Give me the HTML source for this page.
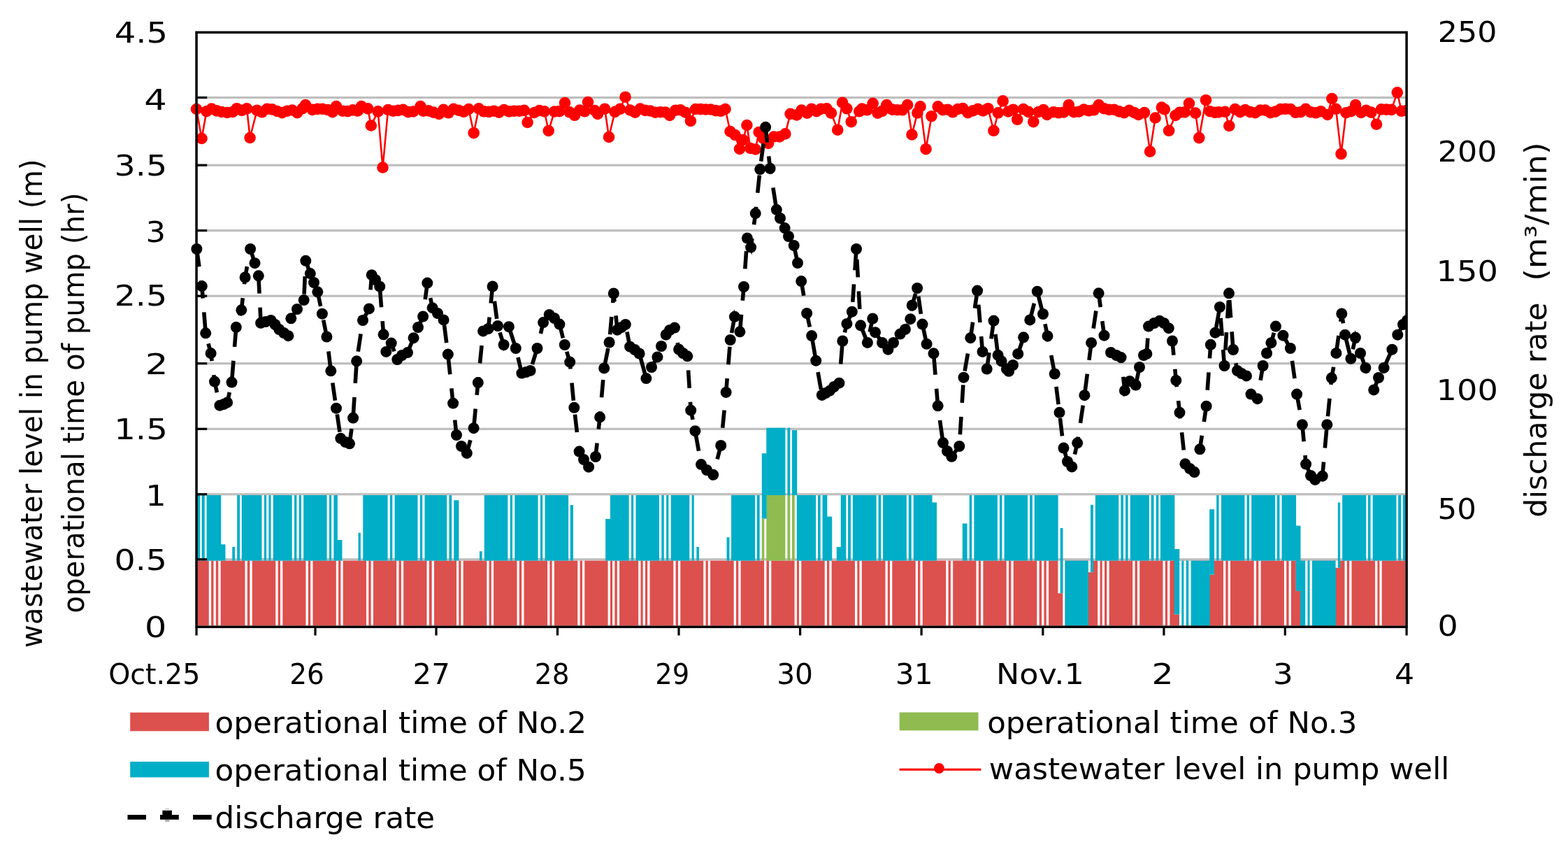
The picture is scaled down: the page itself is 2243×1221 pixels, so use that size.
<!DOCTYPE html>
<html><head><meta charset="utf-8"><title>chart</title>
<style>html,body{margin:0;padding:0;background:#fff;overflow:hidden;} svg{display:block;}</style>
</head><body>
<svg width="2243" height="1221" viewBox="0 0 2243 1221">
<rect x="0" y="0" width="2243" height="1221" fill="#fff"/>
<rect x="281.1" y="137.9" width="1731.0" height="3.2" fill="#BEBEBE"/>
<rect x="281.1" y="234.6" width="1731.0" height="3.2" fill="#BEBEBE"/>
<rect x="281.1" y="328.0" width="1731.0" height="3.2" fill="#BEBEBE"/>
<rect x="281.1" y="421.6" width="1731.0" height="3.2" fill="#BEBEBE"/>
<rect x="281.1" y="518.1" width="1731.0" height="3.2" fill="#BEBEBE"/>
<rect x="281.1" y="611.7" width="1731.0" height="3.2" fill="#BEBEBE"/>
<rect x="281.1" y="705.1" width="1731.0" height="3.2" fill="#BEBEBE"/>
<rect x="281.1" y="798.2" width="1731.0" height="3.2" fill="#BEBEBE"/>
<rect x="282.60" y="801.60" width="1727.80" height="93.00" fill="#DC504E"/>
<rect x="1513.40" y="801.60" width="6.90" height="46.70" fill="#fff"/>
<rect x="1520.30" y="801.60" width="3.40" height="93.00" fill="#fff"/>
<rect x="1523.45" y="801.60" width="33.60" height="93.00" fill="#00AEC7"/>
<rect x="1556.80" y="801.60" width="6.90" height="16.60" fill="#fff"/>
<rect x="1680.10" y="801.60" width="6.90" height="76.80" fill="#fff"/>
<rect x="1686.75" y="801.60" width="43.90" height="93.00" fill="#00AEC7"/>
<rect x="1730.40" y="801.60" width="6.50" height="20.00" fill="#fff"/>
<rect x="1853.80" y="801.60" width="6.50" height="43.30" fill="#fff"/>
<rect x="1860.05" y="801.60" width="50.80" height="93.00" fill="#00AEC7"/>
<rect x="1910.60" y="801.60" width="6.30" height="10.20" fill="#fff"/>
<rect x="298.80" y="801.60" width="3.30" height="93.00" fill="#fff"/>
<rect x="305.50" y="801.60" width="3.30" height="93.00" fill="#fff"/>
<rect x="312.30" y="801.60" width="3.30" height="93.00" fill="#fff"/>
<rect x="350.50" y="801.60" width="3.30" height="93.00" fill="#fff"/>
<rect x="357.40" y="801.60" width="3.30" height="93.00" fill="#fff"/>
<rect x="394.30" y="801.60" width="3.30" height="93.00" fill="#fff"/>
<rect x="401.00" y="801.60" width="3.30" height="93.00" fill="#fff"/>
<rect x="437.50" y="801.60" width="3.30" height="93.00" fill="#fff"/>
<rect x="444.20" y="801.60" width="3.30" height="93.00" fill="#fff"/>
<rect x="480.80" y="801.60" width="3.30" height="93.00" fill="#fff"/>
<rect x="487.40" y="801.60" width="3.30" height="93.00" fill="#fff"/>
<rect x="524.00" y="801.60" width="3.30" height="93.00" fill="#fff"/>
<rect x="530.70" y="801.60" width="3.30" height="93.00" fill="#fff"/>
<rect x="567.20" y="801.60" width="3.30" height="93.00" fill="#fff"/>
<rect x="573.90" y="801.60" width="3.30" height="93.00" fill="#fff"/>
<rect x="610.50" y="801.60" width="3.30" height="93.00" fill="#fff"/>
<rect x="617.70" y="801.60" width="3.30" height="93.00" fill="#fff"/>
<rect x="653.00" y="801.60" width="3.30" height="93.00" fill="#fff"/>
<rect x="659.40" y="801.60" width="3.30" height="93.00" fill="#fff"/>
<rect x="696.30" y="801.60" width="3.30" height="93.00" fill="#fff"/>
<rect x="702.80" y="801.60" width="3.30" height="93.00" fill="#fff"/>
<rect x="739.50" y="801.60" width="3.30" height="93.00" fill="#fff"/>
<rect x="746.20" y="801.60" width="3.30" height="93.00" fill="#fff"/>
<rect x="783.10" y="801.60" width="3.30" height="93.00" fill="#fff"/>
<rect x="789.60" y="801.60" width="3.30" height="93.00" fill="#fff"/>
<rect x="826.30" y="801.60" width="3.30" height="93.00" fill="#fff"/>
<rect x="833.00" y="801.60" width="3.30" height="93.00" fill="#fff"/>
<rect x="869.60" y="801.60" width="3.30" height="93.00" fill="#fff"/>
<rect x="876.10" y="801.60" width="3.30" height="93.00" fill="#fff"/>
<rect x="882.80" y="801.60" width="3.30" height="93.00" fill="#fff"/>
<rect x="913.20" y="801.60" width="3.30" height="93.00" fill="#fff"/>
<rect x="919.70" y="801.60" width="3.30" height="93.00" fill="#fff"/>
<rect x="926.20" y="801.60" width="3.30" height="93.00" fill="#fff"/>
<rect x="963.30" y="801.60" width="3.30" height="93.00" fill="#fff"/>
<rect x="970.00" y="801.60" width="3.30" height="93.00" fill="#fff"/>
<rect x="1006.20" y="801.60" width="3.30" height="93.00" fill="#fff"/>
<rect x="1012.80" y="801.60" width="3.30" height="93.00" fill="#fff"/>
<rect x="1049.70" y="801.60" width="3.30" height="93.00" fill="#fff"/>
<rect x="1056.30" y="801.60" width="3.30" height="93.00" fill="#fff"/>
<rect x="1093.10" y="801.60" width="3.30" height="93.00" fill="#fff"/>
<rect x="1100.00" y="801.60" width="3.30" height="93.00" fill="#fff"/>
<rect x="1136.60" y="801.60" width="3.30" height="93.00" fill="#fff"/>
<rect x="1143.00" y="801.60" width="3.30" height="93.00" fill="#fff"/>
<rect x="1179.70" y="801.60" width="3.30" height="93.00" fill="#fff"/>
<rect x="1186.30" y="801.60" width="3.30" height="93.00" fill="#fff"/>
<rect x="1223.00" y="801.60" width="3.30" height="93.00" fill="#fff"/>
<rect x="1229.50" y="801.60" width="3.30" height="93.00" fill="#fff"/>
<rect x="1266.50" y="801.60" width="3.30" height="93.00" fill="#fff"/>
<rect x="1273.00" y="801.60" width="3.30" height="93.00" fill="#fff"/>
<rect x="1309.70" y="801.60" width="3.30" height="93.00" fill="#fff"/>
<rect x="1316.40" y="801.60" width="3.30" height="93.00" fill="#fff"/>
<rect x="1353.20" y="801.60" width="3.30" height="93.00" fill="#fff"/>
<rect x="1359.90" y="801.60" width="3.30" height="93.00" fill="#fff"/>
<rect x="1396.50" y="801.60" width="3.30" height="93.00" fill="#fff"/>
<rect x="1403.10" y="801.60" width="3.30" height="93.00" fill="#fff"/>
<rect x="1439.70" y="801.60" width="3.30" height="93.00" fill="#fff"/>
<rect x="1446.40" y="801.60" width="3.30" height="93.00" fill="#fff"/>
<rect x="1483.30" y="801.60" width="3.30" height="93.00" fill="#fff"/>
<rect x="1490.10" y="801.60" width="3.30" height="93.00" fill="#fff"/>
<rect x="1496.80" y="801.60" width="3.30" height="93.00" fill="#fff"/>
<rect x="1570.20" y="801.60" width="3.30" height="93.00" fill="#fff"/>
<rect x="1576.70" y="801.60" width="3.30" height="93.00" fill="#fff"/>
<rect x="1583.30" y="801.60" width="3.30" height="93.00" fill="#fff"/>
<rect x="1620.20" y="801.60" width="3.30" height="93.00" fill="#fff"/>
<rect x="1626.90" y="801.60" width="3.30" height="93.00" fill="#fff"/>
<rect x="1663.50" y="801.60" width="3.30" height="93.00" fill="#fff"/>
<rect x="1670.10" y="801.60" width="3.30" height="93.00" fill="#fff"/>
<rect x="1687.00" y="801.60" width="3.30" height="93.00" fill="#fff"/>
<rect x="1693.40" y="801.60" width="3.30" height="93.00" fill="#fff"/>
<rect x="1700.30" y="801.60" width="3.30" height="93.00" fill="#fff"/>
<rect x="1750.00" y="801.60" width="3.30" height="93.00" fill="#fff"/>
<rect x="1756.70" y="801.60" width="3.30" height="93.00" fill="#fff"/>
<rect x="1793.70" y="801.60" width="3.30" height="93.00" fill="#fff"/>
<rect x="1800.30" y="801.60" width="3.30" height="93.00" fill="#fff"/>
<rect x="1836.90" y="801.60" width="3.30" height="93.00" fill="#fff"/>
<rect x="1843.60" y="801.60" width="3.30" height="93.00" fill="#fff"/>
<rect x="1867.20" y="801.60" width="3.30" height="93.00" fill="#fff"/>
<rect x="1873.60" y="801.60" width="3.30" height="93.00" fill="#fff"/>
<rect x="1923.50" y="801.60" width="3.30" height="93.00" fill="#fff"/>
<rect x="1930.20" y="801.60" width="3.30" height="93.00" fill="#fff"/>
<rect x="1967.10" y="801.60" width="3.30" height="93.00" fill="#fff"/>
<rect x="1973.40" y="801.60" width="3.30" height="93.00" fill="#fff"/>
<rect x="282.35" y="708.00" width="3.80" height="93.60" fill="#00AEC7"/>
<rect x="288.65" y="708.00" width="4.10" height="93.60" fill="#00AEC7"/>
<rect x="295.55" y="708.00" width="20.70" height="93.60" fill="#00AEC7"/>
<rect x="315.75" y="778.30" width="6.70" height="23.30" fill="#00AEC7"/>
<rect x="332.25" y="781.90" width="3.80" height="19.70" fill="#00AEC7"/>
<rect x="339.15" y="708.00" width="3.90" height="93.60" fill="#00AEC7"/>
<rect x="345.75" y="708.00" width="137.10" height="93.60" fill="#00AEC7"/>
<rect x="482.35" y="772.00" width="7.10" height="29.60" fill="#00AEC7"/>
<rect x="512.55" y="761.70" width="3.30" height="39.90" fill="#00AEC7"/>
<rect x="519.25" y="708.00" width="120.00" height="93.60" fill="#00AEC7"/>
<rect x="642.45" y="708.00" width="3.70" height="93.60" fill="#00AEC7"/>
<rect x="649.25" y="715.20" width="7.10" height="86.40" fill="#00AEC7"/>
<rect x="685.95" y="788.20" width="3.70" height="13.40" fill="#00AEC7"/>
<rect x="692.75" y="708.00" width="120.40" height="93.60" fill="#00AEC7"/>
<rect x="815.75" y="722.00" width="4.20" height="79.60" fill="#00AEC7"/>
<rect x="866.15" y="741.90" width="7.30" height="59.70" fill="#00AEC7"/>
<rect x="872.95" y="708.00" width="119.80" height="93.60" fill="#00AEC7"/>
<rect x="996.35" y="782.00" width="3.60" height="19.60" fill="#00AEC7"/>
<rect x="1039.55" y="768.20" width="3.90" height="33.40" fill="#00AEC7"/>
<rect x="1046.05" y="708.00" width="34.10" height="93.60" fill="#00AEC7"/>
<rect x="1082.75" y="708.00" width="3.90" height="93.60" fill="#00AEC7"/>
<rect x="1139.75" y="708.00" width="27.40" height="93.60" fill="#00AEC7"/>
<rect x="1170.05" y="708.00" width="3.60" height="93.60" fill="#00AEC7"/>
<rect x="1176.55" y="708.00" width="6.80" height="93.60" fill="#00AEC7"/>
<rect x="1182.85" y="738.60" width="7.40" height="63.00" fill="#00AEC7"/>
<rect x="1196.75" y="782.00" width="6.50" height="19.60" fill="#00AEC7"/>
<rect x="1202.75" y="708.00" width="7.60" height="93.60" fill="#00AEC7"/>
<rect x="1213.05" y="708.00" width="3.90" height="93.60" fill="#00AEC7"/>
<rect x="1219.85" y="708.00" width="33.80" height="93.60" fill="#00AEC7"/>
<rect x="1256.55" y="708.00" width="3.70" height="93.60" fill="#00AEC7"/>
<rect x="1263.05" y="708.00" width="33.80" height="93.60" fill="#00AEC7"/>
<rect x="1299.75" y="708.00" width="4.00" height="93.60" fill="#00AEC7"/>
<rect x="1306.75" y="708.00" width="26.80" height="93.60" fill="#00AEC7"/>
<rect x="1333.05" y="718.40" width="7.00" height="83.20" fill="#00AEC7"/>
<rect x="1376.75" y="748.50" width="6.80" height="53.10" fill="#00AEC7"/>
<rect x="1386.65" y="708.00" width="3.60" height="93.60" fill="#00AEC7"/>
<rect x="1393.35" y="708.00" width="33.50" height="93.60" fill="#00AEC7"/>
<rect x="1429.95" y="708.00" width="3.50" height="93.60" fill="#00AEC7"/>
<rect x="1436.55" y="708.00" width="33.50" height="93.60" fill="#00AEC7"/>
<rect x="1473.15" y="708.00" width="3.70" height="93.60" fill="#00AEC7"/>
<rect x="1479.75" y="708.00" width="33.90" height="93.60" fill="#00AEC7"/>
<rect x="1566.85" y="708.00" width="33.40" height="93.60" fill="#00AEC7"/>
<rect x="1603.35" y="708.00" width="3.60" height="93.60" fill="#00AEC7"/>
<rect x="1610.05" y="708.00" width="3.60" height="93.60" fill="#00AEC7"/>
<rect x="1616.75" y="708.00" width="27.10" height="93.60" fill="#00AEC7"/>
<rect x="1646.65" y="708.00" width="3.90" height="93.60" fill="#00AEC7"/>
<rect x="1653.65" y="708.00" width="3.70" height="93.60" fill="#00AEC7"/>
<rect x="1659.95" y="708.00" width="20.40" height="93.60" fill="#00AEC7"/>
<rect x="1740.15" y="708.00" width="3.40" height="93.60" fill="#00AEC7"/>
<rect x="1746.95" y="708.00" width="33.50" height="93.60" fill="#00AEC7"/>
<rect x="1783.55" y="708.00" width="3.50" height="93.60" fill="#00AEC7"/>
<rect x="1790.15" y="708.00" width="34.00" height="93.60" fill="#00AEC7"/>
<rect x="1826.75" y="708.00" width="3.70" height="93.60" fill="#00AEC7"/>
<rect x="1833.55" y="708.00" width="20.50" height="93.60" fill="#00AEC7"/>
<rect x="1920.15" y="708.00" width="34.10" height="93.60" fill="#00AEC7"/>
<rect x="1956.95" y="708.00" width="3.60" height="93.60" fill="#00AEC7"/>
<rect x="1963.65" y="708.00" width="33.80" height="93.60" fill="#00AEC7"/>
<rect x="2000.15" y="708.00" width="4.10" height="93.60" fill="#00AEC7"/>
<rect x="2006.85" y="708.00" width="3.80" height="93.60" fill="#00AEC7"/>
<rect x="374.50" y="708.00" width="3.30" height="90.20" fill="#fff"/>
<rect x="374.50" y="798.20" width="3.30" height="3.40" fill="#BEBEBE"/>
<rect x="381.10" y="708.00" width="3.30" height="90.20" fill="#fff"/>
<rect x="381.10" y="798.20" width="3.30" height="3.40" fill="#BEBEBE"/>
<rect x="387.50" y="708.00" width="3.30" height="90.20" fill="#fff"/>
<rect x="387.50" y="798.20" width="3.30" height="3.40" fill="#BEBEBE"/>
<rect x="417.70" y="708.00" width="3.30" height="90.20" fill="#fff"/>
<rect x="417.70" y="798.20" width="3.30" height="3.40" fill="#BEBEBE"/>
<rect x="424.40" y="708.00" width="3.30" height="90.20" fill="#fff"/>
<rect x="424.40" y="798.20" width="3.30" height="3.40" fill="#BEBEBE"/>
<rect x="430.90" y="708.00" width="3.30" height="90.20" fill="#fff"/>
<rect x="430.90" y="798.20" width="3.30" height="3.40" fill="#BEBEBE"/>
<rect x="467.60" y="708.00" width="3.30" height="90.20" fill="#fff"/>
<rect x="467.60" y="798.20" width="3.30" height="3.40" fill="#BEBEBE"/>
<rect x="474.10" y="708.00" width="3.30" height="90.20" fill="#fff"/>
<rect x="474.10" y="798.20" width="3.30" height="3.40" fill="#BEBEBE"/>
<rect x="554.60" y="708.00" width="3.30" height="90.20" fill="#fff"/>
<rect x="554.60" y="798.20" width="3.30" height="3.40" fill="#BEBEBE"/>
<rect x="561.30" y="708.00" width="3.30" height="90.20" fill="#fff"/>
<rect x="561.30" y="798.20" width="3.30" height="3.40" fill="#BEBEBE"/>
<rect x="597.50" y="708.00" width="3.30" height="90.20" fill="#fff"/>
<rect x="597.50" y="798.20" width="3.30" height="3.40" fill="#BEBEBE"/>
<rect x="604.20" y="708.00" width="3.30" height="90.20" fill="#fff"/>
<rect x="604.20" y="798.20" width="3.30" height="3.40" fill="#BEBEBE"/>
<rect x="726.40" y="708.00" width="3.30" height="90.20" fill="#fff"/>
<rect x="726.40" y="798.20" width="3.30" height="3.40" fill="#BEBEBE"/>
<rect x="733.00" y="708.00" width="3.30" height="90.20" fill="#fff"/>
<rect x="733.00" y="798.20" width="3.30" height="3.40" fill="#BEBEBE"/>
<rect x="769.60" y="708.00" width="3.30" height="90.20" fill="#fff"/>
<rect x="769.60" y="798.20" width="3.30" height="3.40" fill="#BEBEBE"/>
<rect x="776.20" y="708.00" width="3.30" height="90.20" fill="#fff"/>
<rect x="776.20" y="798.20" width="3.30" height="3.40" fill="#BEBEBE"/>
<rect x="899.70" y="708.00" width="3.30" height="90.20" fill="#fff"/>
<rect x="899.70" y="798.20" width="3.30" height="3.40" fill="#BEBEBE"/>
<rect x="906.20" y="708.00" width="3.30" height="90.20" fill="#fff"/>
<rect x="906.20" y="798.20" width="3.30" height="3.40" fill="#BEBEBE"/>
<rect x="943.00" y="708.00" width="3.30" height="90.20" fill="#fff"/>
<rect x="943.00" y="798.20" width="3.30" height="3.40" fill="#BEBEBE"/>
<rect x="949.80" y="708.00" width="3.30" height="90.20" fill="#fff"/>
<rect x="949.80" y="798.20" width="3.30" height="3.40" fill="#BEBEBE"/>
<rect x="956.40" y="708.00" width="3.30" height="90.20" fill="#fff"/>
<rect x="956.40" y="798.20" width="3.30" height="3.40" fill="#BEBEBE"/>
<rect x="986.30" y="708.00" width="3.30" height="90.20" fill="#fff"/>
<rect x="986.30" y="798.20" width="3.30" height="3.40" fill="#BEBEBE"/>
<rect x="1089.80" y="741.60" width="3.50" height="60.00" fill="#8FBB50"/>
<rect x="1096.30" y="708.00" width="27.10" height="93.60" fill="#8FBB50"/>
<rect x="1126.40" y="708.00" width="3.90" height="93.60" fill="#8FBB50"/>
<rect x="1133.00" y="708.00" width="3.80" height="93.60" fill="#8FBB50"/>
<rect x="1089.80" y="648.20" width="6.90" height="93.40" fill="#00AEC7"/>
<rect x="1096.30" y="611.70" width="27.10" height="96.30" fill="#00AEC7"/>
<rect x="1126.40" y="611.70" width="3.90" height="96.30" fill="#00AEC7"/>
<rect x="1133.00" y="615.10" width="7.20" height="92.90" fill="#00AEC7"/>
<rect x="1516.70" y="755.00" width="3.80" height="93.30" fill="#00AEC7"/>
<rect x="1560.00" y="721.80" width="3.90" height="96.40" fill="#00AEC7"/>
<rect x="1679.90" y="785.00" width="7.30" height="93.40" fill="#00AEC7"/>
<rect x="1730.20" y="728.20" width="6.90" height="93.40" fill="#00AEC7"/>
<rect x="1853.60" y="751.60" width="6.90" height="93.30" fill="#00AEC7"/>
<rect x="1913.80" y="718.40" width="3.30" height="93.40" fill="#00AEC7"/>
<defs><clipPath id="cr"><rect x="0" y="0" width="2012" height="1221"/></clipPath></defs>
<g clip-path="url(#cr)">
<path d="M281.0,156.0 L288.5,198.0 L295.4,159.2 L302.6,155.5 L309.9,158.4 L317.0,160.0 L325.0,161.0 L333.0,160.0 L338.7,155.2 L345.9,157.8 L353.1,155.4 L357.6,197.0 L367.6,157.7 L374.8,160.3 L382.0,155.8 L389.2,156.4 L396.4,159.0 L403.6,161.1 L410.8,158.7 L418.0,157.5 L425.2,161.2 L432.5,155.3 L437.0,150.0 L446.9,156.9 L454.1,155.9 L461.3,155.8 L468.5,157.0 L475.7,160.2 L481.0,152.0 L490.2,158.7 L497.4,159.1 L504.6,157.4 L511.8,158.5 L517.0,152.0 L526.2,155.4 L530.8,179.5 L540.7,159.4 L547.5,239.5 L555.1,157.0 L562.3,158.7 L569.5,157.9 L576.7,156.9 L583.9,160.1 L591.1,159.5 L601.5,152.0 L605.6,158.7 L612.8,158.4 L620.0,160.6 L628.0,163.0 L634.4,156.8 L641.6,161.3 L648.8,155.8 L656.0,157.7 L663.3,159.8 L670.5,156.0 L677.7,190.2 L684.9,155.3 L692.1,159.3 L699.3,159.9 L706.5,158.7 L713.8,160.6 L721.0,157.0 L728.2,159.4 L735.4,158.8 L742.6,158.7 L749.8,157.9 L754.6,175.0 L764.2,161.0 L771.5,158.0 L778.7,159.3 L784.7,187.0 L793.1,159.5 L800.3,159.1 L808.0,147.0 L814.7,160.3 L822.0,164.8 L829.1,157.5 L836.4,159.3 L841.0,146.0 L850.8,158.0 L855.0,163.0 L865.2,155.7 L871.0,196.0 L879.6,159.9 L886.9,155.8 L894.5,138.7 L901.3,157.5 L908.5,160.6 L915.7,155.5 L922.9,157.9 L930.1,158.5 L937.3,160.7 L944.6,160.2 L951.8,160.5 L958.0,165.0 L966.2,157.7 L973.4,157.3 L980.6,160.7 L987.9,173.0 L995.0,156.0 L1002.2,156.1 L1009.5,156.5 L1016.7,156.5 L1023.9,158.1 L1031.1,158.8 L1037.5,156.0 L1044.5,188.0 L1051.5,193.0 L1058.0,213.0 L1063.0,200.0 L1068.4,179.0 L1073.3,212.0 L1080.7,213.5 L1085.6,189.0 L1092.0,198.0 L1099.0,205.0 L1106.9,195.5 L1115.1,195.5 L1123.3,191.4 L1130.6,162.8 L1139.7,164.4 L1146.5,157.5 L1154.6,161.6 L1160.9,155.7 L1168.1,159.1 L1174.1,155.9 L1182.6,155.4 L1189.0,161.6 L1198.2,185.7 L1205.1,146.7 L1211.4,155.3 L1217.7,174.2 L1229.2,159.3 L1233.1,155.6 L1240.3,157.3 L1248.6,147.8 L1255.5,161.6 L1261.9,158.9 L1268.3,150.0 L1276.3,156.6 L1283.5,157.2 L1290.8,157.3 L1298.1,150.0 L1304.5,192.5 L1312.4,161.4 L1316.5,152.4 L1324.5,213.2 L1332.5,166.2 L1341.7,152.4 L1348.5,157.2 L1355.7,156.7 L1362.9,160.3 L1370.1,156.0 L1377.3,155.1 L1384.5,161.1 L1391.7,158.4 L1398.9,155.9 L1406.2,158.5 L1413.4,155.2 L1421.4,186.8 L1427.8,161.3 L1434.6,144.4 L1442.2,159.5 L1449.4,156.7 L1455.2,170.8 L1463.9,156.1 L1471.1,159.9 L1478.3,174.2 L1485.5,160.0 L1492.7,157.1 L1497.8,164.0 L1507.1,160.2 L1514.3,161.3 L1521.5,160.5 L1528.8,150.0 L1536.0,160.2 L1543.2,159.7 L1550.4,156.5 L1557.6,158.3 L1564.8,157.3 L1571.8,150.0 L1579.2,155.2 L1586.5,156.8 L1593.7,156.7 L1600.9,159.4 L1608.1,161.1 L1615.3,157.9 L1622.5,161.0 L1628.5,164.0 L1637.0,161.1 L1645.1,216.6 L1652.6,168.5 L1661.8,153.6 L1665.8,156.3 L1672.1,186.8 L1681.5,165.0 L1687.4,160.8 L1694.7,160.4 L1701.0,147.8 L1710.1,161.6 L1715.3,197.1 L1725.0,143.2 L1730.7,159.2 L1737.9,160.8 L1743.4,160.4 L1752.4,159.8 L1758.3,180.0 L1766.8,156.1 L1774.0,160.1 L1781.2,157.1 L1788.4,160.1 L1795.6,161.2 L1802.8,157.5 L1810.1,157.6 L1817.3,161.1 L1824.5,159.6 L1831.7,156.1 L1838.9,155.8 L1846.1,156.0 L1853.3,160.8 L1860.5,160.2 L1867.8,155.9 L1875.0,160.3 L1882.2,161.3 L1889.4,159.2 L1899.0,164.0 L1905.3,141.0 L1911.0,155.8 L1918.5,220.1 L1925.5,161.2 L1932.7,159.2 L1939.1,150.0 L1947.1,161.0 L1954.3,157.8 L1961.5,160.6 L1969.0,177.7 L1975.9,156.4 L1983.2,156.6 L1990.4,156.9 L1998.8,132.3 L2004.8,158.8 L2012.0,158.0" fill="none" stroke="#FF0000" stroke-width="2.6" stroke-linejoin="round"/>
<g fill="#FF0000"><circle cx="281.0" cy="156.0" r="8.3"/><circle cx="288.5" cy="198.0" r="8.3"/><circle cx="295.4" cy="159.2" r="8.3"/><circle cx="302.6" cy="155.5" r="8.3"/><circle cx="309.9" cy="158.4" r="8.3"/><circle cx="317.0" cy="160.0" r="8.3"/><circle cx="325.0" cy="161.0" r="8.3"/><circle cx="333.0" cy="160.0" r="8.3"/><circle cx="338.7" cy="155.2" r="8.3"/><circle cx="345.9" cy="157.8" r="8.3"/><circle cx="353.1" cy="155.4" r="8.3"/><circle cx="357.6" cy="197.0" r="8.3"/><circle cx="367.6" cy="157.7" r="8.3"/><circle cx="374.8" cy="160.3" r="8.3"/><circle cx="382.0" cy="155.8" r="8.3"/><circle cx="389.2" cy="156.4" r="8.3"/><circle cx="396.4" cy="159.0" r="8.3"/><circle cx="403.6" cy="161.1" r="8.3"/><circle cx="410.8" cy="158.7" r="8.3"/><circle cx="418.0" cy="157.5" r="8.3"/><circle cx="425.2" cy="161.2" r="8.3"/><circle cx="432.5" cy="155.3" r="8.3"/><circle cx="437.0" cy="150.0" r="8.3"/><circle cx="446.9" cy="156.9" r="8.3"/><circle cx="454.1" cy="155.9" r="8.3"/><circle cx="461.3" cy="155.8" r="8.3"/><circle cx="468.5" cy="157.0" r="8.3"/><circle cx="475.7" cy="160.2" r="8.3"/><circle cx="481.0" cy="152.0" r="8.3"/><circle cx="490.2" cy="158.7" r="8.3"/><circle cx="497.4" cy="159.1" r="8.3"/><circle cx="504.6" cy="157.4" r="8.3"/><circle cx="511.8" cy="158.5" r="8.3"/><circle cx="517.0" cy="152.0" r="8.3"/><circle cx="526.2" cy="155.4" r="8.3"/><circle cx="530.8" cy="179.5" r="8.3"/><circle cx="540.7" cy="159.4" r="8.3"/><circle cx="547.5" cy="239.5" r="8.3"/><circle cx="555.1" cy="157.0" r="8.3"/><circle cx="562.3" cy="158.7" r="8.3"/><circle cx="569.5" cy="157.9" r="8.3"/><circle cx="576.7" cy="156.9" r="8.3"/><circle cx="583.9" cy="160.1" r="8.3"/><circle cx="591.1" cy="159.5" r="8.3"/><circle cx="601.5" cy="152.0" r="8.3"/><circle cx="605.6" cy="158.7" r="8.3"/><circle cx="612.8" cy="158.4" r="8.3"/><circle cx="620.0" cy="160.6" r="8.3"/><circle cx="628.0" cy="163.0" r="8.3"/><circle cx="634.4" cy="156.8" r="8.3"/><circle cx="641.6" cy="161.3" r="8.3"/><circle cx="648.8" cy="155.8" r="8.3"/><circle cx="656.0" cy="157.7" r="8.3"/><circle cx="663.3" cy="159.8" r="8.3"/><circle cx="670.5" cy="156.0" r="8.3"/><circle cx="677.7" cy="190.2" r="8.3"/><circle cx="684.9" cy="155.3" r="8.3"/><circle cx="692.1" cy="159.3" r="8.3"/><circle cx="699.3" cy="159.9" r="8.3"/><circle cx="706.5" cy="158.7" r="8.3"/><circle cx="713.8" cy="160.6" r="8.3"/><circle cx="721.0" cy="157.0" r="8.3"/><circle cx="728.2" cy="159.4" r="8.3"/><circle cx="735.4" cy="158.8" r="8.3"/><circle cx="742.6" cy="158.7" r="8.3"/><circle cx="749.8" cy="157.9" r="8.3"/><circle cx="754.6" cy="175.0" r="8.3"/><circle cx="764.2" cy="161.0" r="8.3"/><circle cx="771.5" cy="158.0" r="8.3"/><circle cx="778.7" cy="159.3" r="8.3"/><circle cx="784.7" cy="187.0" r="8.3"/><circle cx="793.1" cy="159.5" r="8.3"/><circle cx="800.3" cy="159.1" r="8.3"/><circle cx="808.0" cy="147.0" r="8.3"/><circle cx="814.7" cy="160.3" r="8.3"/><circle cx="822.0" cy="164.8" r="8.3"/><circle cx="829.1" cy="157.5" r="8.3"/><circle cx="836.4" cy="159.3" r="8.3"/><circle cx="841.0" cy="146.0" r="8.3"/><circle cx="850.8" cy="158.0" r="8.3"/><circle cx="855.0" cy="163.0" r="8.3"/><circle cx="865.2" cy="155.7" r="8.3"/><circle cx="871.0" cy="196.0" r="8.3"/><circle cx="879.6" cy="159.9" r="8.3"/><circle cx="886.9" cy="155.8" r="8.3"/><circle cx="894.5" cy="138.7" r="8.3"/><circle cx="901.3" cy="157.5" r="8.3"/><circle cx="908.5" cy="160.6" r="8.3"/><circle cx="915.7" cy="155.5" r="8.3"/><circle cx="922.9" cy="157.9" r="8.3"/><circle cx="930.1" cy="158.5" r="8.3"/><circle cx="937.3" cy="160.7" r="8.3"/><circle cx="944.6" cy="160.2" r="8.3"/><circle cx="951.8" cy="160.5" r="8.3"/><circle cx="958.0" cy="165.0" r="8.3"/><circle cx="966.2" cy="157.7" r="8.3"/><circle cx="973.4" cy="157.3" r="8.3"/><circle cx="980.6" cy="160.7" r="8.3"/><circle cx="987.9" cy="173.0" r="8.3"/><circle cx="995.0" cy="156.0" r="8.3"/><circle cx="1002.2" cy="156.1" r="8.3"/><circle cx="1009.5" cy="156.5" r="8.3"/><circle cx="1016.7" cy="156.5" r="8.3"/><circle cx="1023.9" cy="158.1" r="8.3"/><circle cx="1031.1" cy="158.8" r="8.3"/><circle cx="1037.5" cy="156.0" r="8.3"/><circle cx="1044.5" cy="188.0" r="8.3"/><circle cx="1051.5" cy="193.0" r="8.3"/><circle cx="1058.0" cy="213.0" r="8.3"/><circle cx="1063.0" cy="200.0" r="8.3"/><circle cx="1068.4" cy="179.0" r="8.3"/><circle cx="1073.3" cy="212.0" r="8.3"/><circle cx="1080.7" cy="213.5" r="8.3"/><circle cx="1085.6" cy="189.0" r="8.3"/><circle cx="1092.0" cy="198.0" r="8.3"/><circle cx="1099.0" cy="205.0" r="8.3"/><circle cx="1106.9" cy="195.5" r="8.3"/><circle cx="1115.1" cy="195.5" r="8.3"/><circle cx="1123.3" cy="191.4" r="8.3"/><circle cx="1130.6" cy="162.8" r="8.3"/><circle cx="1139.7" cy="164.4" r="8.3"/><circle cx="1146.5" cy="157.5" r="8.3"/><circle cx="1154.6" cy="161.6" r="8.3"/><circle cx="1160.9" cy="155.7" r="8.3"/><circle cx="1168.1" cy="159.1" r="8.3"/><circle cx="1174.1" cy="155.9" r="8.3"/><circle cx="1182.6" cy="155.4" r="8.3"/><circle cx="1189.0" cy="161.6" r="8.3"/><circle cx="1198.2" cy="185.7" r="8.3"/><circle cx="1205.1" cy="146.7" r="8.3"/><circle cx="1211.4" cy="155.3" r="8.3"/><circle cx="1217.7" cy="174.2" r="8.3"/><circle cx="1229.2" cy="159.3" r="8.3"/><circle cx="1233.1" cy="155.6" r="8.3"/><circle cx="1240.3" cy="157.3" r="8.3"/><circle cx="1248.6" cy="147.8" r="8.3"/><circle cx="1255.5" cy="161.6" r="8.3"/><circle cx="1261.9" cy="158.9" r="8.3"/><circle cx="1268.3" cy="150.0" r="8.3"/><circle cx="1276.3" cy="156.6" r="8.3"/><circle cx="1283.5" cy="157.2" r="8.3"/><circle cx="1290.8" cy="157.3" r="8.3"/><circle cx="1298.1" cy="150.0" r="8.3"/><circle cx="1304.5" cy="192.5" r="8.3"/><circle cx="1312.4" cy="161.4" r="8.3"/><circle cx="1316.5" cy="152.4" r="8.3"/><circle cx="1324.5" cy="213.2" r="8.3"/><circle cx="1332.5" cy="166.2" r="8.3"/><circle cx="1341.7" cy="152.4" r="8.3"/><circle cx="1348.5" cy="157.2" r="8.3"/><circle cx="1355.7" cy="156.7" r="8.3"/><circle cx="1362.9" cy="160.3" r="8.3"/><circle cx="1370.1" cy="156.0" r="8.3"/><circle cx="1377.3" cy="155.1" r="8.3"/><circle cx="1384.5" cy="161.1" r="8.3"/><circle cx="1391.7" cy="158.4" r="8.3"/><circle cx="1398.9" cy="155.9" r="8.3"/><circle cx="1406.2" cy="158.5" r="8.3"/><circle cx="1413.4" cy="155.2" r="8.3"/><circle cx="1421.4" cy="186.8" r="8.3"/><circle cx="1427.8" cy="161.3" r="8.3"/><circle cx="1434.6" cy="144.4" r="8.3"/><circle cx="1442.2" cy="159.5" r="8.3"/><circle cx="1449.4" cy="156.7" r="8.3"/><circle cx="1455.2" cy="170.8" r="8.3"/><circle cx="1463.9" cy="156.1" r="8.3"/><circle cx="1471.1" cy="159.9" r="8.3"/><circle cx="1478.3" cy="174.2" r="8.3"/><circle cx="1485.5" cy="160.0" r="8.3"/><circle cx="1492.7" cy="157.1" r="8.3"/><circle cx="1497.8" cy="164.0" r="8.3"/><circle cx="1507.1" cy="160.2" r="8.3"/><circle cx="1514.3" cy="161.3" r="8.3"/><circle cx="1521.5" cy="160.5" r="8.3"/><circle cx="1528.8" cy="150.0" r="8.3"/><circle cx="1536.0" cy="160.2" r="8.3"/><circle cx="1543.2" cy="159.7" r="8.3"/><circle cx="1550.4" cy="156.5" r="8.3"/><circle cx="1557.6" cy="158.3" r="8.3"/><circle cx="1564.8" cy="157.3" r="8.3"/><circle cx="1571.8" cy="150.0" r="8.3"/><circle cx="1579.2" cy="155.2" r="8.3"/><circle cx="1586.5" cy="156.8" r="8.3"/><circle cx="1593.7" cy="156.7" r="8.3"/><circle cx="1600.9" cy="159.4" r="8.3"/><circle cx="1608.1" cy="161.1" r="8.3"/><circle cx="1615.3" cy="157.9" r="8.3"/><circle cx="1622.5" cy="161.0" r="8.3"/><circle cx="1628.5" cy="164.0" r="8.3"/><circle cx="1637.0" cy="161.1" r="8.3"/><circle cx="1645.1" cy="216.6" r="8.3"/><circle cx="1652.6" cy="168.5" r="8.3"/><circle cx="1661.8" cy="153.6" r="8.3"/><circle cx="1665.8" cy="156.3" r="8.3"/><circle cx="1672.1" cy="186.8" r="8.3"/><circle cx="1681.5" cy="165.0" r="8.3"/><circle cx="1687.4" cy="160.8" r="8.3"/><circle cx="1694.7" cy="160.4" r="8.3"/><circle cx="1701.0" cy="147.8" r="8.3"/><circle cx="1710.1" cy="161.6" r="8.3"/><circle cx="1715.3" cy="197.1" r="8.3"/><circle cx="1725.0" cy="143.2" r="8.3"/><circle cx="1730.7" cy="159.2" r="8.3"/><circle cx="1737.9" cy="160.8" r="8.3"/><circle cx="1743.4" cy="160.4" r="8.3"/><circle cx="1752.4" cy="159.8" r="8.3"/><circle cx="1758.3" cy="180.0" r="8.3"/><circle cx="1766.8" cy="156.1" r="8.3"/><circle cx="1774.0" cy="160.1" r="8.3"/><circle cx="1781.2" cy="157.1" r="8.3"/><circle cx="1788.4" cy="160.1" r="8.3"/><circle cx="1795.6" cy="161.2" r="8.3"/><circle cx="1802.8" cy="157.5" r="8.3"/><circle cx="1810.1" cy="157.6" r="8.3"/><circle cx="1817.3" cy="161.1" r="8.3"/><circle cx="1824.5" cy="159.6" r="8.3"/><circle cx="1831.7" cy="156.1" r="8.3"/><circle cx="1838.9" cy="155.8" r="8.3"/><circle cx="1846.1" cy="156.0" r="8.3"/><circle cx="1853.3" cy="160.8" r="8.3"/><circle cx="1860.5" cy="160.2" r="8.3"/><circle cx="1867.8" cy="155.9" r="8.3"/><circle cx="1875.0" cy="160.3" r="8.3"/><circle cx="1882.2" cy="161.3" r="8.3"/><circle cx="1889.4" cy="159.2" r="8.3"/><circle cx="1899.0" cy="164.0" r="8.3"/><circle cx="1905.3" cy="141.0" r="8.3"/><circle cx="1911.0" cy="155.8" r="8.3"/><circle cx="1918.5" cy="220.1" r="8.3"/><circle cx="1925.5" cy="161.2" r="8.3"/><circle cx="1932.7" cy="159.2" r="8.3"/><circle cx="1939.1" cy="150.0" r="8.3"/><circle cx="1947.1" cy="161.0" r="8.3"/><circle cx="1954.3" cy="157.8" r="8.3"/><circle cx="1961.5" cy="160.6" r="8.3"/><circle cx="1969.0" cy="177.7" r="8.3"/><circle cx="1975.9" cy="156.4" r="8.3"/><circle cx="1983.2" cy="156.6" r="8.3"/><circle cx="1990.4" cy="156.9" r="8.3"/><circle cx="1998.8" cy="132.3" r="8.3"/><circle cx="2004.8" cy="158.8" r="8.3"/><circle cx="2012.0" cy="158.0" r="8.3"/></g>
<path d="M281.4,356.0 L288.8,409.2 L294.2,476.3 L301.6,505.1 L307.0,545.6 L314.4,579.7 L320.0,578.0 L325.1,575.4 L331.5,546.6 L337.8,467.8 L345.3,443.3 L350.6,396.5 L358.1,356.0 L364.5,376.2 L369.8,394.3 L373.1,461.8 L380.0,460.0 L387.5,457.9 L393.5,464.0 L399.3,471.0 L406.0,476.0 L412.4,480.2 L416.3,455.3 L425.0,442.0 L434.7,429.1 L437.3,372.8 L443.8,391.1 L449.0,404.0 L454.3,417.3 L460.9,448.7 L467.4,481.5 L473.3,530.3 L481.0,583.7 L487.3,626.8 L494.0,632.0 L500.0,634.3 L505.1,597.6 L510.2,516.3 L519.0,458.0 L527.9,441.4 L531.7,393.2 L537.0,400.0 L543.2,409.7 L548.6,478.3 L552.3,502.9 L559.7,490.6 L568.3,514.0 L575.0,508.0 L583.0,504.1 L591.6,483.2 L598.0,468.0 L605.1,452.5 L611.3,404.6 L618.6,440.2 L626.0,448.0 L634.6,457.4 L640.8,506.6 L648.1,576.6 L653.0,622.0 L660.0,638.0 L667.8,647.9 L677.6,612.2 L683.8,547.1 L691.1,473.4 L698.5,470.0 L704.6,409.5 L712.0,466.0 L720.6,493.0 L727.9,467.2 L737.8,498.0 L746.4,533.6 L752.5,532.0 L758.6,529.9 L768.5,498.0 L777.1,461.1 L785.7,450.0 L793.0,455.0 L800.4,463.6 L807.8,493.0 L815.2,517.6 L821.3,582.8 L828.6,645.6 L835.0,657.0 L842.1,667.7 L852.0,653.0 L858.1,596.4 L864.2,526.4 L871.6,489.5 L877.8,419.5 L883.0,471.7 L889.0,468.0 L894.8,463.9 L901.1,495.7 L908.0,500.0 L914.6,505.5 L924.4,541.1 L932.0,525.0 L940.4,510.4 L946.0,495.0 L952.7,478.5 L958.0,472.0 L965.0,468.6 L971.1,499.5 L977.0,505.0 L983.3,509.3 L988.2,586.7 L994.4,616.2 L1003.0,664.1 L1011.0,672.0 L1020.2,678.8 L1031.2,637.0 L1038.6,560.9 L1044.7,486.0 L1050.9,452.8 L1058.4,474.3 L1064.0,410.0 L1068.9,340.5 L1074.1,353.6 L1080.7,305.1 L1087.2,242.1 L1095.1,181.8 L1101.6,240.8 L1110.8,299.8 L1116.0,312.0 L1122.6,326.1 L1128.0,338.0 L1135.7,351.0 L1141.0,376.0 L1146.2,402.1 L1154.1,448.0 L1161.1,480.1 L1167.2,515.7 L1175.8,564.9 L1181.0,562.0 L1186.9,558.7 L1193.0,553.0 L1200.4,547.7 L1205.3,487.5 L1211.4,462.9 L1218.8,445.7 L1225.0,356.0 L1231.1,465.3 L1240.9,489.9 L1248.3,455.5 L1252.0,475.2 L1262.0,490.0 L1270.4,499.7 L1278.0,490.0 L1287.6,477.6 L1294.9,470.9 L1302.3,456.2 L1304.7,436.5 L1312.1,412.0 L1319.5,463.6 L1325.6,491.8 L1335.5,505.3 L1341.6,580.3 L1349.0,633.1 L1355.0,645.0 L1361.3,652.8 L1372.3,638.0 L1378.5,539.7 L1388.3,483.2 L1398.1,415.6 L1405.5,502.9 L1411.7,527.5 L1421.5,458.6 L1427.6,507.8 L1432.6,516.4 L1439.9,527.5 L1443.1,530.8 L1449.0,522.0 L1456.2,505.9 L1464.1,482.3 L1473.3,457.4 L1483.8,416.7 L1492.0,449.0 L1498.5,480.4 L1508.7,534.5 L1515.5,589.8 L1521.5,640.5 L1527.0,660.0 L1533.3,667.4 L1541.2,633.3 L1551.4,565.2 L1561.1,490.2 L1571.6,419.3 L1579.5,479.7 L1589.0,504.0 L1597.0,508.0 L1603.6,511.1 L1608.9,558.4 L1616.0,545.0 L1624.6,550.5 L1630.0,525.0 L1636.0,508.0 L1640.3,505.9 L1643.0,466.6 L1651.0,462.0 L1658.7,458.7 L1665.0,462.0 L1671.8,469.2 L1677.0,487.5 L1682.3,543.9 L1687.5,589.8 L1695.4,663.3 L1702.0,670.0 L1708.5,675.1 L1716.4,642.3 L1725.6,580.7 L1731.8,492.8 L1738.4,475.7 L1744.9,439.0 L1751.5,523.0 L1758.0,419.3 L1764.0,500.0 L1770.0,530.0 L1776.0,534.0 L1783.0,537.4 L1789.5,563.6 L1798.7,570.2 L1806.6,523.0 L1812.0,505.0 L1818.4,490.2 L1824.9,466.6 L1835.4,479.7 L1845.9,498.0 L1855.1,563.6 L1862.9,607.2 L1868.1,663.6 L1875.0,680.0 L1881.2,685.9 L1891.7,680.7 L1898.3,607.2 L1904.8,540.3 L1911.4,504.9 L1919.3,448.5 L1924.0,478.7 L1932.4,512.8 L1938.9,482.6 L1946.0,505.0 L1953.4,525.9 L1965.2,557.4 L1972.0,540.0 L1979.6,525.9 L1991.4,499.7 L1999.3,478.7 L2007.0,464.0 L2013.0,458.0" fill="none" stroke="#000" stroke-width="5.6" stroke-dasharray="25.5 20"/>
<g fill="#000"><circle cx="281.4" cy="356.0" r="8"/><circle cx="288.8" cy="409.2" r="8"/><circle cx="294.2" cy="476.3" r="8"/><circle cx="301.6" cy="505.1" r="8"/><circle cx="307.0" cy="545.6" r="8"/><circle cx="314.4" cy="579.7" r="8"/><circle cx="320.0" cy="578.0" r="8"/><circle cx="325.1" cy="575.4" r="8"/><circle cx="331.5" cy="546.6" r="8"/><circle cx="337.8" cy="467.8" r="8"/><circle cx="345.3" cy="443.3" r="8"/><circle cx="350.6" cy="396.5" r="8"/><circle cx="358.1" cy="356.0" r="8"/><circle cx="364.5" cy="376.2" r="8"/><circle cx="369.8" cy="394.3" r="8"/><circle cx="373.1" cy="461.8" r="8"/><circle cx="380.0" cy="460.0" r="8"/><circle cx="387.5" cy="457.9" r="8"/><circle cx="393.5" cy="464.0" r="8"/><circle cx="399.3" cy="471.0" r="8"/><circle cx="406.0" cy="476.0" r="8"/><circle cx="412.4" cy="480.2" r="8"/><circle cx="416.3" cy="455.3" r="8"/><circle cx="425.0" cy="442.0" r="8"/><circle cx="434.7" cy="429.1" r="8"/><circle cx="437.3" cy="372.8" r="8"/><circle cx="443.8" cy="391.1" r="8"/><circle cx="449.0" cy="404.0" r="8"/><circle cx="454.3" cy="417.3" r="8"/><circle cx="460.9" cy="448.7" r="8"/><circle cx="467.4" cy="481.5" r="8"/><circle cx="473.3" cy="530.3" r="8"/><circle cx="481.0" cy="583.7" r="8"/><circle cx="487.3" cy="626.8" r="8"/><circle cx="494.0" cy="632.0" r="8"/><circle cx="500.0" cy="634.3" r="8"/><circle cx="505.1" cy="597.6" r="8"/><circle cx="510.2" cy="516.3" r="8"/><circle cx="519.0" cy="458.0" r="8"/><circle cx="527.9" cy="441.4" r="8"/><circle cx="531.7" cy="393.2" r="8"/><circle cx="537.0" cy="400.0" r="8"/><circle cx="543.2" cy="409.7" r="8"/><circle cx="548.6" cy="478.3" r="8"/><circle cx="552.3" cy="502.9" r="8"/><circle cx="559.7" cy="490.6" r="8"/><circle cx="568.3" cy="514.0" r="8"/><circle cx="575.0" cy="508.0" r="8"/><circle cx="583.0" cy="504.1" r="8"/><circle cx="591.6" cy="483.2" r="8"/><circle cx="598.0" cy="468.0" r="8"/><circle cx="605.1" cy="452.5" r="8"/><circle cx="611.3" cy="404.6" r="8"/><circle cx="618.6" cy="440.2" r="8"/><circle cx="626.0" cy="448.0" r="8"/><circle cx="634.6" cy="457.4" r="8"/><circle cx="640.8" cy="506.6" r="8"/><circle cx="648.1" cy="576.6" r="8"/><circle cx="653.0" cy="622.0" r="8"/><circle cx="660.0" cy="638.0" r="8"/><circle cx="667.8" cy="647.9" r="8"/><circle cx="677.6" cy="612.2" r="8"/><circle cx="683.8" cy="547.1" r="8"/><circle cx="691.1" cy="473.4" r="8"/><circle cx="698.5" cy="470.0" r="8"/><circle cx="704.6" cy="409.5" r="8"/><circle cx="712.0" cy="466.0" r="8"/><circle cx="720.6" cy="493.0" r="8"/><circle cx="727.9" cy="467.2" r="8"/><circle cx="737.8" cy="498.0" r="8"/><circle cx="746.4" cy="533.6" r="8"/><circle cx="752.5" cy="532.0" r="8"/><circle cx="758.6" cy="529.9" r="8"/><circle cx="768.5" cy="498.0" r="8"/><circle cx="777.1" cy="461.1" r="8"/><circle cx="785.7" cy="450.0" r="8"/><circle cx="793.0" cy="455.0" r="8"/><circle cx="800.4" cy="463.6" r="8"/><circle cx="807.8" cy="493.0" r="8"/><circle cx="815.2" cy="517.6" r="8"/><circle cx="821.3" cy="582.8" r="8"/><circle cx="828.6" cy="645.6" r="8"/><circle cx="835.0" cy="657.0" r="8"/><circle cx="842.1" cy="667.7" r="8"/><circle cx="852.0" cy="653.0" r="8"/><circle cx="858.1" cy="596.4" r="8"/><circle cx="864.2" cy="526.4" r="8"/><circle cx="871.6" cy="489.5" r="8"/><circle cx="877.8" cy="419.5" r="8"/><circle cx="883.0" cy="471.7" r="8"/><circle cx="889.0" cy="468.0" r="8"/><circle cx="894.8" cy="463.9" r="8"/><circle cx="901.1" cy="495.7" r="8"/><circle cx="908.0" cy="500.0" r="8"/><circle cx="914.6" cy="505.5" r="8"/><circle cx="924.4" cy="541.1" r="8"/><circle cx="932.0" cy="525.0" r="8"/><circle cx="940.4" cy="510.4" r="8"/><circle cx="946.0" cy="495.0" r="8"/><circle cx="952.7" cy="478.5" r="8"/><circle cx="958.0" cy="472.0" r="8"/><circle cx="965.0" cy="468.6" r="8"/><circle cx="971.1" cy="499.5" r="8"/><circle cx="977.0" cy="505.0" r="8"/><circle cx="983.3" cy="509.3" r="8"/><circle cx="988.2" cy="586.7" r="8"/><circle cx="994.4" cy="616.2" r="8"/><circle cx="1003.0" cy="664.1" r="8"/><circle cx="1011.0" cy="672.0" r="8"/><circle cx="1020.2" cy="678.8" r="8"/><circle cx="1031.2" cy="637.0" r="8"/><circle cx="1038.6" cy="560.9" r="8"/><circle cx="1044.7" cy="486.0" r="8"/><circle cx="1050.9" cy="452.8" r="8"/><circle cx="1058.4" cy="474.3" r="8"/><circle cx="1064.0" cy="410.0" r="8"/><circle cx="1068.9" cy="340.5" r="8"/><circle cx="1074.1" cy="353.6" r="8"/><circle cx="1080.7" cy="305.1" r="8"/><circle cx="1087.2" cy="242.1" r="8"/><circle cx="1095.1" cy="181.8" r="8"/><circle cx="1101.6" cy="240.8" r="8"/><circle cx="1110.8" cy="299.8" r="8"/><circle cx="1116.0" cy="312.0" r="8"/><circle cx="1122.6" cy="326.1" r="8"/><circle cx="1128.0" cy="338.0" r="8"/><circle cx="1135.7" cy="351.0" r="8"/><circle cx="1141.0" cy="376.0" r="8"/><circle cx="1146.2" cy="402.1" r="8"/><circle cx="1154.1" cy="448.0" r="8"/><circle cx="1161.1" cy="480.1" r="8"/><circle cx="1167.2" cy="515.7" r="8"/><circle cx="1175.8" cy="564.9" r="8"/><circle cx="1181.0" cy="562.0" r="8"/><circle cx="1186.9" cy="558.7" r="8"/><circle cx="1193.0" cy="553.0" r="8"/><circle cx="1200.4" cy="547.7" r="8"/><circle cx="1205.3" cy="487.5" r="8"/><circle cx="1211.4" cy="462.9" r="8"/><circle cx="1218.8" cy="445.7" r="8"/><circle cx="1225.0" cy="356.0" r="8"/><circle cx="1231.1" cy="465.3" r="8"/><circle cx="1240.9" cy="489.9" r="8"/><circle cx="1248.3" cy="455.5" r="8"/><circle cx="1252.0" cy="475.2" r="8"/><circle cx="1262.0" cy="490.0" r="8"/><circle cx="1270.4" cy="499.7" r="8"/><circle cx="1278.0" cy="490.0" r="8"/><circle cx="1287.6" cy="477.6" r="8"/><circle cx="1294.9" cy="470.9" r="8"/><circle cx="1302.3" cy="456.2" r="8"/><circle cx="1304.7" cy="436.5" r="8"/><circle cx="1312.1" cy="412.0" r="8"/><circle cx="1319.5" cy="463.6" r="8"/><circle cx="1325.6" cy="491.8" r="8"/><circle cx="1335.5" cy="505.3" r="8"/><circle cx="1341.6" cy="580.3" r="8"/><circle cx="1349.0" cy="633.1" r="8"/><circle cx="1355.0" cy="645.0" r="8"/><circle cx="1361.3" cy="652.8" r="8"/><circle cx="1372.3" cy="638.0" r="8"/><circle cx="1378.5" cy="539.7" r="8"/><circle cx="1388.3" cy="483.2" r="8"/><circle cx="1398.1" cy="415.6" r="8"/><circle cx="1405.5" cy="502.9" r="8"/><circle cx="1411.7" cy="527.5" r="8"/><circle cx="1421.5" cy="458.6" r="8"/><circle cx="1427.6" cy="507.8" r="8"/><circle cx="1432.6" cy="516.4" r="8"/><circle cx="1439.9" cy="527.5" r="8"/><circle cx="1443.1" cy="530.8" r="8"/><circle cx="1449.0" cy="522.0" r="8"/><circle cx="1456.2" cy="505.9" r="8"/><circle cx="1464.1" cy="482.3" r="8"/><circle cx="1473.3" cy="457.4" r="8"/><circle cx="1483.8" cy="416.7" r="8"/><circle cx="1492.0" cy="449.0" r="8"/><circle cx="1498.5" cy="480.4" r="8"/><circle cx="1508.7" cy="534.5" r="8"/><circle cx="1515.5" cy="589.8" r="8"/><circle cx="1521.5" cy="640.5" r="8"/><circle cx="1527.0" cy="660.0" r="8"/><circle cx="1533.3" cy="667.4" r="8"/><circle cx="1541.2" cy="633.3" r="8"/><circle cx="1551.4" cy="565.2" r="8"/><circle cx="1561.1" cy="490.2" r="8"/><circle cx="1571.6" cy="419.3" r="8"/><circle cx="1579.5" cy="479.7" r="8"/><circle cx="1589.0" cy="504.0" r="8"/><circle cx="1597.0" cy="508.0" r="8"/><circle cx="1603.6" cy="511.1" r="8"/><circle cx="1608.9" cy="558.4" r="8"/><circle cx="1616.0" cy="545.0" r="8"/><circle cx="1624.6" cy="550.5" r="8"/><circle cx="1630.0" cy="525.0" r="8"/><circle cx="1636.0" cy="508.0" r="8"/><circle cx="1640.3" cy="505.9" r="8"/><circle cx="1643.0" cy="466.6" r="8"/><circle cx="1651.0" cy="462.0" r="8"/><circle cx="1658.7" cy="458.7" r="8"/><circle cx="1665.0" cy="462.0" r="8"/><circle cx="1671.8" cy="469.2" r="8"/><circle cx="1677.0" cy="487.5" r="8"/><circle cx="1682.3" cy="543.9" r="8"/><circle cx="1687.5" cy="589.8" r="8"/><circle cx="1695.4" cy="663.3" r="8"/><circle cx="1702.0" cy="670.0" r="8"/><circle cx="1708.5" cy="675.1" r="8"/><circle cx="1716.4" cy="642.3" r="8"/><circle cx="1725.6" cy="580.7" r="8"/><circle cx="1731.8" cy="492.8" r="8"/><circle cx="1738.4" cy="475.7" r="8"/><circle cx="1744.9" cy="439.0" r="8"/><circle cx="1751.5" cy="523.0" r="8"/><circle cx="1758.0" cy="419.3" r="8"/><circle cx="1764.0" cy="500.0" r="8"/><circle cx="1770.0" cy="530.0" r="8"/><circle cx="1776.0" cy="534.0" r="8"/><circle cx="1783.0" cy="537.4" r="8"/><circle cx="1789.5" cy="563.6" r="8"/><circle cx="1798.7" cy="570.2" r="8"/><circle cx="1806.6" cy="523.0" r="8"/><circle cx="1812.0" cy="505.0" r="8"/><circle cx="1818.4" cy="490.2" r="8"/><circle cx="1824.9" cy="466.6" r="8"/><circle cx="1835.4" cy="479.7" r="8"/><circle cx="1845.9" cy="498.0" r="8"/><circle cx="1855.1" cy="563.6" r="8"/><circle cx="1862.9" cy="607.2" r="8"/><circle cx="1868.1" cy="663.6" r="8"/><circle cx="1875.0" cy="680.0" r="8"/><circle cx="1881.2" cy="685.9" r="8"/><circle cx="1891.7" cy="680.7" r="8"/><circle cx="1898.3" cy="607.2" r="8"/><circle cx="1904.8" cy="540.3" r="8"/><circle cx="1911.4" cy="504.9" r="8"/><circle cx="1919.3" cy="448.5" r="8"/><circle cx="1924.0" cy="478.7" r="8"/><circle cx="1932.4" cy="512.8" r="8"/><circle cx="1938.9" cy="482.6" r="8"/><circle cx="1946.0" cy="505.0" r="8"/><circle cx="1953.4" cy="525.9" r="8"/><circle cx="1965.2" cy="557.4" r="8"/><circle cx="1972.0" cy="540.0" r="8"/><circle cx="1979.6" cy="525.9" r="8"/><circle cx="1991.4" cy="499.7" r="8"/><circle cx="1999.3" cy="478.7" r="8"/><circle cx="2007.0" cy="464.0" r="8"/><circle cx="2013.0" cy="458.0" r="8"/></g>
</g>
<rect x="281.05" y="46.30" width="1731.05" height="850.00" fill="none" stroke="#000" stroke-width="3.5"/>
<rect x="281.05" y="137.90" width="15.15" height="3.20" fill="#000"/>
<rect x="281.05" y="234.60" width="15.15" height="3.20" fill="#000"/>
<rect x="281.05" y="328.00" width="15.15" height="3.20" fill="#000"/>
<rect x="281.05" y="421.60" width="15.15" height="3.20" fill="#000"/>
<rect x="281.05" y="518.10" width="15.15" height="3.20" fill="#000"/>
<rect x="281.05" y="611.70" width="15.15" height="3.20" fill="#000"/>
<rect x="281.05" y="705.10" width="15.15" height="3.20" fill="#000"/>
<rect x="281.05" y="798.20" width="15.15" height="3.20" fill="#000"/>
<rect x="279.45" y="896.30" width="3.20" height="12.20" fill="#000"/>
<rect x="449.40" y="896.30" width="3.20" height="12.20" fill="#000"/>
<rect x="622.40" y="896.30" width="3.20" height="12.20" fill="#000"/>
<rect x="795.90" y="896.30" width="3.20" height="12.20" fill="#000"/>
<rect x="969.40" y="896.30" width="3.20" height="12.20" fill="#000"/>
<rect x="1143.00" y="896.30" width="3.20" height="12.20" fill="#000"/>
<rect x="1316.50" y="896.30" width="3.20" height="12.20" fill="#000"/>
<rect x="1490.20" y="896.30" width="3.20" height="12.20" fill="#000"/>
<rect x="1663.30" y="896.30" width="3.20" height="12.20" fill="#000"/>
<rect x="1836.70" y="896.30" width="3.20" height="12.20" fill="#000"/>
<rect x="2010.50" y="896.30" width="3.20" height="12.20" fill="#000"/>
<g font-family="'DejaVu Sans', 'Liberation Sans', sans-serif" fill="#000">
<text x="0" y="0" font-size="41.00" transform="translate(163.80 61.00) scale(1.1701 1)">4.5</text>
<text x="0" y="0" font-size="41.00" transform="translate(206.30 157.40) scale(1.2464 1)">4</text>
<text x="0" y="0" font-size="41.00" transform="translate(163.60 251.00) scale(1.1579 1)">3.5</text>
<text x="0" y="0" font-size="41.00" transform="translate(208.60 345.50) scale(1.0958 1)">3</text>
<text x="0" y="0" font-size="41.00" transform="translate(163.70 437.30) scale(1.1560 1)">2.5</text>
<text x="0" y="0" font-size="41.00" transform="translate(207.80 535.10) scale(1.2533 1)">2</text>
<text x="0" y="0" font-size="41.00" transform="translate(163.20 628.20) scale(1.1754 1)">1.5</text>
<text x="0" y="0" font-size="41.00" transform="translate(208.20 722.70) scale(1.1307 1)">1</text>
<text x="0" y="0" font-size="41.00" transform="translate(163.60 815.10) scale(1.1560 1)">0.5</text>
<text x="0" y="0" font-size="41.00" transform="translate(207.00 911.40) scale(1.1996 1)">0</text>
<text x="0" y="0" font-size="41.00" transform="translate(2056.80 60.20) scale(1.0806 1)">250</text>
<text x="0" y="0" font-size="41.00" transform="translate(2056.80 231.00) scale(1.0806 1)">200</text>
<text x="0" y="0" font-size="41.00" transform="translate(2054.60 401.70) scale(1.1282 1)">150</text>
<text x="0" y="0" font-size="41.00" transform="translate(2054.60 571.50) scale(1.1282 1)">100</text>
<text x="0" y="0" font-size="41.00" transform="translate(2056.60 742.30) scale(1.0587 1)">50</text>
<text x="0" y="0" font-size="41.00" transform="translate(2056.60 909.30) scale(1.1203 1)">0</text>
<text x="0" y="0" font-size="41.00" transform="translate(155.20 977.70) scale(0.9646 1)">Oct.25</text>
<text x="0" y="0" font-size="41.00" transform="translate(414.20 977.70) scale(0.9533 1)">26</text>
<text x="0" y="0" font-size="41.00" transform="translate(590.60 977.70) scale(1.0197 1)">27</text>
<text x="0" y="0" font-size="41.00" transform="translate(764.80 977.70) scale(0.9524 1)">28</text>
<text x="0" y="0" font-size="41.00" transform="translate(937.20 977.70) scale(0.9385 1)">29</text>
<text x="0" y="0" font-size="41.00" transform="translate(1111.20 977.70) scale(0.9940 1)">30</text>
<text x="0" y="0" font-size="41.00" transform="translate(1280.80 977.70) scale(1.0312 1)">31</text>
<text x="0" y="0" font-size="41.00" transform="translate(1425.00 977.70) scale(1.0843 1)">Nov.1</text>
<text x="0" y="0" font-size="41.00" transform="translate(1647.40 977.70) scale(1.1949 1)">2</text>
<text x="0" y="0" font-size="41.00" transform="translate(1821.00 977.70) scale(1.1033 1)">3</text>
<text x="0" y="0" font-size="41.00" transform="translate(1995.00 977.70) scale(1.0824 1)">4</text>
<text x="0" y="0" font-size="42.00" transform="translate(307.60 1048.40) scale(1.0401 1)">operational time of No.2</text>
<text x="0" y="0" font-size="42.00" transform="translate(307.60 1115.50) scale(1.0400 1)">operational time of No.5</text>
<text x="0" y="0" font-size="42.00" transform="translate(307.60 1184.00) scale(1.0368 1)">discharge rate</text>
<text x="0" y="0" font-size="42.00" transform="translate(1412.20 1048.00) scale(1.0358 1)">operational time of No.3</text>
<text x="0" y="0" font-size="42.00" transform="translate(1414.80 1114.00) scale(1.0289 1)">wastewater level in pump well</text>
<text x="0" y="0" font-size="42.00" transform="translate(60.00 926.20) rotate(-90) scale(0.9615 1)">wastewater level in pump well (m)</text>
<text x="0" y="0" font-size="42.00" transform="translate(119.50 876.80) rotate(-90) scale(0.9620 1)">operational time of pump (hr)</text>
<text x="0" y="0" font-size="42.00" transform="translate(2212.00 739.80) rotate(-90) scale(1.0134 1)">discharge rate</text>
<text x="0" y="0" font-size="42.00" transform="translate(2212.00 401.80) rotate(-90) scale(1.0791 1)">(m³/min)</text>
</g>
<rect x="186.20" y="1018.70" width="112.70" height="26.60" fill="#DC504E"/>
<rect x="186.20" y="1089.00" width="112.70" height="22.40" fill="#00AEC7"/>
<rect x="1286.70" y="1018.50" width="112.80" height="25.90" fill="#8FBB50"/>
<rect x="1286.6" y="1098.7" width="116.7" height="3.1" fill="#FF0000"/>
<circle cx="1343.4" cy="1098.5" r="7.4" fill="#FF0000"/>
<rect x="182.50" y="1165.00" width="26.50" height="6.80" fill="#000"/>
<rect x="276.10" y="1165.00" width="26.60" height="6.80" fill="#000"/>
<rect x="229.00" y="1165.00" width="26.80" height="6.80" fill="#000"/>
<rect x="232.40" y="1158.70" width="13.50" height="6.50" fill="#000"/>
<rect x="236.20" y="1155.40" width="6.20" height="3.40" fill="#d8d8d8"/>
<rect x="236.20" y="1171.80" width="6.20" height="3.00" fill="#a8a8a8"/>
</svg>
</body></html>
